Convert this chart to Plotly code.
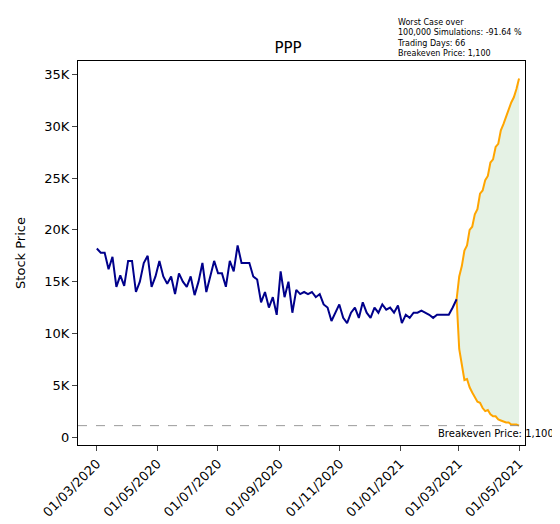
import pandas as pd
import plotly.graph_objects as go

ticker = "PPP"
breakeven = 1100

# historical closes (thousands), roughly every 4 days from 01/03/2020
hist_k = [18.2, 17.8, 17.8, 16.2, 17.4, 14.5, 15.6, 14.6, 17.0, 17.0, 14.0, 15.0,
          16.8, 17.5, 14.5, 15.5, 17.0, 15.5, 14.8, 15.5, 13.8, 15.8, 15.0, 14.5,
          15.5, 13.7, 15.0, 16.8, 14.0, 15.5, 17.0, 15.8, 15.8, 14.5, 17.0, 16.0,
          18.5, 16.8, 16.8, 16.8, 15.5, 15.2, 13.0, 14.0, 12.5, 13.5, 11.8, 16.0,
          13.5, 15.0, 12.0, 14.2, 13.8, 14.0, 13.8, 14.0, 13.5, 13.8, 12.8, 12.5,
          11.2, 12.0, 12.8, 11.5, 11.0, 12.0, 12.5, 11.5, 13.0, 12.0, 11.5, 12.5,
          12.0, 12.8, 12.3, 12.5, 12.0, 12.7, 11.0, 11.8, 11.5, 12.0, 12.0, 12.2,
          12.0, 11.8, 11.5, 11.8, 11.8, 11.8, 11.8, 12.5, 13.3]
hist_dates = pd.date_range("2020-03-01", "2021-02-27", periods=len(hist_k))

# simulated best / worst paths (thousands)
sim_upper_k = [13.3, 15.5, 16.5, 18.0, 18.5, 20.0, 20.3, 21.5, 22.0, 23.5, 23.8,
               24.8, 25.2, 26.5, 26.8, 28.0, 28.3, 29.6, 30.2, 31.0, 31.6, 32.3,
               32.8, 33.6, 34.6]
sim_lower_k = [13.3, 8.5, 7.0, 5.5, 5.6, 4.8, 4.3, 3.9, 3.4, 3.3, 2.8, 2.5, 2.6,
               2.2, 2.0, 2.0, 1.7, 1.6, 1.5, 1.4, 1.4, 1.2, 1.2, 1.2, 1.1]
sim_dates = pd.date_range("2021-02-27", "2021-05-01", periods=len(sim_upper_k))

hist = [v * 1000 for v in hist_k]
upper = [v * 1000 for v in sim_upper_k]
lower = [v * 1000 for v in sim_lower_k]
ytick_vals = list(range(0, 35001, 5000))
ytick_text = ["0", "5K", "10K", "15K", "20K", "25K", "30K", "35K"]

fig = go.Figure()
fig.add_trace(go.Scatter(x=sim_dates, y=lower, mode="lines",
                         line=dict(color="orange", width=2)))
fig.add_trace(go.Scatter(x=sim_dates, y=upper, mode="lines", fill="tonexty",
                         fillcolor="rgba(0,128,0,0.1)",
                         line=dict(color="orange", width=2)))
fig.add_trace(go.Scatter(x=hist_dates, y=hist, mode="lines",
                         line=dict(color="darkblue", width=2)))
fig.add_hline(y=breakeven, line=dict(color="gray", width=0.8, dash="dash"))

fig.add_annotation(text="Breakeven Price: 1,100", xref="paper", yref="y",
                   x=1.07, y=breakeven, xanchor="right", yanchor="top",
                   showarrow=False, font=dict(size=10, color="black"))
fig.add_annotation(text="Worst Case over<br>100,000 Simulations: -91.64 %<br>"
                        "Trading Days: 66<br>Breakeven Price: 1,100",
                   xref="paper", yref="paper", x=0.71, y=1.118, xanchor="left",
                   yanchor="top", align="left", showarrow=False,
                   font=dict(size=8, color="black"))

axis = dict(showline=True, linecolor="black", mirror=True, showgrid=False,
            ticks="outside", zeroline=False, tickfont=dict(size=13, color="black"))
fig.update_xaxes(**axis, range=["2020-02-11", "2021-05-07"],
                 tickvals=pd.date_range("2020-03-01", "2021-05-01", freq="2MS"),
                 tickformat="%d/%m/%Y", tickangle=-45)
fig.update_yaxes(**axis, range=[-770, 36300], tickvals=ytick_vals, ticktext=ytick_text,
                 title=dict(text="Stock Price", font=dict(size=13)))

fig.update_layout(width=560, height=524, showlegend=False,
                  plot_bgcolor="white", paper_bgcolor="white",
                  font=dict(family="DejaVu Sans", color="black"),
                  title=dict(text=ticker, x=0.5, y=0.935, xanchor="center",
                             font=dict(size=15)),
                  margin=dict(l=67, r=43, t=53, b=84))
fig.write_html("out.html")
